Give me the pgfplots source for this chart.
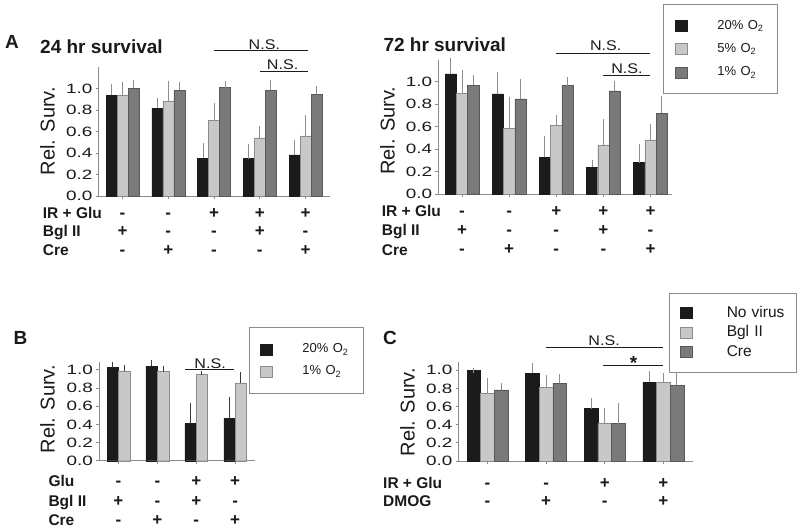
\documentclass[border=0pt]{standalone}
\usepackage{fontspec}
\setmainfont{Liberation Sans}
\newfontfamily\tickfamily{Liberation Sans}[FakeStretch=1.4]
\newfontfamily\nsfamily{Liberation Sans}[FakeStretch=1.15]
\usepackage{pgfplots}
\usepackage{pgfplotstable}
\pgfplotsset{compat=1.18}

\definecolor{blk}{HTML}{1C1A1B}
\definecolor{lgt}{HTML}{C8C8C8}
\definecolor{dgr}{HTML}{7A7A7A}
\definecolor{axgray}{HTML}{8C8C8C}
\definecolor{ebg}{HTML}{8E8E8E}
\definecolor{ebd}{HTML}{3A3A3A}
\definecolor{txt}{HTML}{1A1A1A}

\newcommand\tickfont{\tickfamily\fontsize{13.5}{16}\selectfont}
\newcommand\titlefont{\bfseries\fontsize{19}{22}\selectfont}
\newcommand\ylabfont{\fontsize{20}{24}\selectfont}
\newcommand\rowfont{\bfseries\fontsize{15.5}{18}\selectfont}
\newcommand\signfont{\bfseries\fontsize{17}{20}\selectfont}
\newcommand\nsfont{\nsfamily\fontsize{14}{16}\selectfont}
\newcommand\legfont{\fontsize{13}{15}\selectfont}
\newcommand\legCfont{\fontsize{15.5}{18}\selectfont}

% x = group, k/l/d = black/light/dark bar, e = upper error
\pgfplotstableread{
x k ke l le d de
0 0.938 0.087 0.940 0.100 1.000 0.060
1 0.817 0.073 0.885 0.165 0.984 0.056
2 0.351 0.124 0.705 0.140 1.009 0.044
3 0.348 0.115 0.540 0.087 0.984 0.078
4 0.382 0.115 0.559 0.171 0.947 0.053
}\tabA
\pgfplotstableread{
x k ke l le d de
0 1.068 0.124 0.896 0.187 0.970 0.066
1 0.891 0.177 0.586 0.260 0.846 0.160
2 0.331 0.166 0.609 0.071 0.964 0.060
3 0.240 0.044 0.438 0.207 0.917 0.068
4 0.281 0.148 0.482 0.118 0.719 0.133
}\tabAb
\pgfplotstableread{
x k ke l le
0 1.026 0.037 0.989 0.041
1 1.040 0.041 0.982 0.036
2 0.408 0.199 0.956 0.007
3 0.463 0.213 0.857 0.095
}\tabB
\pgfplotstableread{
x k ke l le d de
0 1.000 0.000 0.746 0.147 0.783 0.055
1 0.967 0.092 0.812 0.110 0.857 0.080
2 0.577 0.088 0.415 0.140 0.412 0.202
3 0.871 0.096 0.871 0.078 0.835 0.114
}\tabC

\pgfplotsset{
  panel/.style={
    scale only axis, anchor=south west,
    axis x line*=bottom, axis y line*=left,
    ymin=0, ybar=0pt, clip=false,
    ytick={0,0.2,0.4,0.6,0.8,1.0},
    yticklabels={0.0,0.2,0.4,0.6,0.8,1.0},
    xticklabels={},
    tick align=outside, major tick length=3pt,
    tick style={axgray, line width=0.8pt},
    axis line style={axgray, line width=0.8pt},
    yticklabel style={font=\tickfont, text=txt, inner sep=0pt, xshift=-3pt},
  },
  errplus/.style={
    error bars/y dir=plus, error bars/y explicit,
    error bars/error bar style={line width=1pt, #1},
    error bars/error mark options={line width=1pt, mark size=2.2pt, #1},
  },
  kbar/.style={fill=blk, draw=blk, line width=0.4pt},
  lbar/.style={fill=lgt, draw=black!45, line width=0.4pt},
  dbar/.style={fill=dgr, draw=black!65, line width=0.4pt},
}
\tikzset{
  sgn/.style={anchor=base, inner sep=0pt, font=\signfont, text=txt},
  nsn/.style={anchor=base, inner sep=0pt, font=\nsfont, text=txt},
  sig/.style={draw=txt, line width=1pt},
  lab/.style={anchor=base west, inner sep=0pt, text=txt},
}
\newcommand\sg[3]{\node[sgn, yshift=#2pt] at (axis cs:#1,0) {#3};}

\begin{document}
\begin{tikzpicture}
\path[use as bounding box] (0,0) rectangle (800pt,531pt);

% A, 24 hr
\begin{axis}[panel, at={(98.5pt,335pt)}, width=231.5pt, height=129pt,
  xmin=-0.525, xmax=4.535, ymax=1.2, xtick={0,...,4}, bar width=11pt]
\addplot[kbar, errplus=ebg] table[x=x, y=k, y error=ke] {\tabA};
\addplot[lbar, errplus=ebg] table[x=x, y=l, y error=le] {\tabA};
\addplot[dbar, errplus=ebg] table[x=x, y=d, y error=de] {\tabA};
\draw[sig] (axis cs:2,1.352) -- (axis cs:4.05,1.352);
\node[nsn, yshift=1.5pt] at (axis cs:3.1,1.352) {N.S.};
\draw[sig] (axis cs:3,1.156) -- (axis cs:4.05,1.156);
\node[nsn, yshift=2.4pt] at (axis cs:3.5,1.156) {N.S.};
\sg{0}{-22.3}{-}\sg{0}{-40.7}{+}\sg{0}{-59.7}{-}
\sg{1}{-22.3}{-}\sg{1}{-40.7}{-}\sg{1}{-59.7}{+}
\sg{2}{-22.3}{+}\sg{2}{-40.7}{-}\sg{2}{-59.7}{-}
\sg{3}{-22.3}{+}\sg{3}{-40.7}{+}\sg{3}{-59.7}{-}
\sg{4}{-22.3}{+}\sg{4}{-40.7}{-}\sg{4}{-59.7}{+}
\end{axis}

% A, 72 hr
\begin{axis}[panel, at={(438.3pt,336.7pt)}, width=233.4pt, height=134.3pt,
  xmin=-0.503, xmax=4.45, ymax=1.192, xtick={0,...,4}, bar width=11.3pt,
  legend image code/.code={\draw[#1] (0pt,-5.5pt) rectangle (11.7pt,5.5pt);},
  legend style={at={(0.964,1.417)}, anchor=north west, draw=axgray,
    line width=0.7pt, fill=white, inner xsep=11.7pt, inner ysep=14.85pt,
    row sep=10.3pt, column sep=30pt, font=\legfont, text=txt,
    nodes={inner sep=0pt, text height=10pt, text depth=3pt,
      text width=48.3pt, align=left},
    cells={anchor=west}}]
\addplot[kbar, errplus=ebg] table[x=x, y=k, y error=ke] {\tabAb};
\addplot[lbar, errplus=ebg] table[x=x, y=l, y error=le] {\tabAb};
\addplot[dbar, errplus=ebg] table[x=x, y=d, y error=de] {\tabAb};
\legend{20\% O\textsubscript{2}, 5\% O\textsubscript{2}, 1\% O\textsubscript{2}}
\draw[sig] (axis cs:2,1.251) -- (axis cs:4,1.251);
\node[nsn, yshift=3.3pt] at (axis cs:3.05,1.251) {N.S.};
\draw[sig] (axis cs:3,1.05) -- (axis cs:4,1.05);
\node[nsn, yshift=2pt] at (axis cs:3.5,1.05) {N.S.};
\sg{0}{-22.4}{-}\sg{0}{-40.7}{+}\sg{0}{-60.3}{-}
\sg{1}{-22.4}{-}\sg{1}{-40.7}{-}\sg{1}{-60.3}{+}
\sg{2}{-22.4}{+}\sg{2}{-40.7}{-}\sg{2}{-60.3}{-}
\sg{3}{-22.4}{+}\sg{3}{-40.7}{+}\sg{3}{-60.3}{-}
\sg{4}{-22.4}{+}\sg{4}{-40.7}{-}\sg{4}{-60.3}{+}
\end{axis}

% B
\begin{axis}[panel, at={(99pt,70.3pt)}, width=156pt, height=99pt,
  xmin=-0.5, xmax=3.51, ymax=1.09, xtick={0,...,3}, bar width=11.4pt,
  legend image code/.code={\draw[#1] (0pt,-5.5pt) rectangle (11.7pt,5.5pt);},
  legend style={at={(0.9635,1.3535)}, anchor=north west, draw=axgray,
    line width=0.7pt, fill=white, inner xsep=10.7pt, inner ysep=15.8pt,
    row sep=9pt, column sep=30pt, font=\legfont, text=txt,
    nodes={inner sep=0pt, text height=10pt, text depth=3pt,
      text width=50.3pt, align=left},
    cells={anchor=west}}]
\addplot[kbar, errplus=ebd] table[x=x, y=k, y error=ke] {\tabB};
\addplot[lbar, errplus=ebd] table[x=x, y=l, y error=le] {\tabB};
\legend{20\% O\textsubscript{2}, 1\% O\textsubscript{2}}
\draw[sig] (axis cs:1.715,1.0) -- (axis cs:2.97,1.0);
\node[nsn, yshift=1.7pt] at (axis cs:2.357,1.0) {N.S.};
\sg{0}{-26}{-}\sg{0}{-46}{+}\sg{0}{-64.7}{-}
\sg{1}{-26}{-}\sg{1}{-46}{-}\sg{1}{-64.7}{+}
\sg{2}{-26}{+}\sg{2}{-46}{+}\sg{2}{-64.7}{-}
\sg{3}{-26}{+}\sg{3}{-46}{-}\sg{3}{-64.7}{+}
\end{axis}

% C
\begin{axis}[panel, at={(458.7pt,70pt)}, width=234pt, height=99.3pt,
  xmin=-0.49, xmax=3.5, ymax=1.095, xtick={0,...,3}, bar width=13.6pt,
  legend image code/.code={\draw[#1] (0pt,-5.5pt) rectangle (12.4pt,5.5pt);},
  legend style={at={(0.9,1.695)}, anchor=north west, draw=axgray,
    line width=0.7pt, fill=white, inner xsep=10pt, inner ysep=13pt,
    row sep=5.5pt, column sep=34.3pt, font=\legCfont, text=txt,
    nodes={inner sep=0pt, text height=11pt, text depth=3pt,
      text width=60pt, align=left},
    cells={anchor=west}}]
\addplot[kbar, errplus=ebg] table[x=x, y=k, y error=ke] {\tabC};
\addplot[lbar, errplus=ebg] table[x=x, y=l, y error=le] {\tabC};
\addplot[dbar, errplus=ebg] table[x=x, y=d, y error=de] {\tabC};
\legend{No virus, Bgl II, Cre}
\draw[sig] (axis cs:1,1.249) -- (axis cs:3,1.249);
\node[nsn, yshift=2.7pt] at (axis cs:1.99,1.249) {N.S.};
\draw[sig] (axis cs:1.97,1.058) -- (axis cs:3,1.058);
\node[anchor=base, inner sep=0pt, font=\bfseries\fontsize{19}{22}\selectfont,
  text=txt, yshift=-4.5pt] at (axis cs:2.49,1.058) {*};
\sg{0}{-27.3}{-}\sg{0}{-45.7}{-}
\sg{1}{-27.3}{-}\sg{1}{-45.7}{+}
\sg{2}{-27.3}{+}\sg{2}{-45.7}{-}
\sg{3}{-27.3}{+}\sg{3}{-45.7}{+}
\end{axis}

% panel letters and titles
\node[lab, font=\titlefont] at (5pt,482.7pt) {A};
\node[lab, font=\titlefont] at (40pt,477.7pt) {24 hr survival};
\node[lab, font=\titlefont] at (383.3pt,479pt) {72 hr survival};
\node[lab, font=\titlefont] at (13.3pt,187pt) {B};
\node[lab, font=\titlefont] at (383pt,187pt) {C};

% y labels
\node[rotate=90, inner sep=0pt, font=\ylabfont, text=txt] at (47.5pt,400pt) {Rel. Surv.};
\node[rotate=90, inner sep=0pt, font=\ylabfont, text=txt] at (387.5pt,400.3pt) {Rel. Surv.};
\node[rotate=90, inner sep=0pt, font=\ylabfont, text=txt] at (47.5pt,122pt) {Rel. Surv.};
\node[rotate=90, inner sep=0pt, font=\ylabfont, text=txt] at (407.5pt,119pt) {Rel. Surv.};

% row labels
\node[lab, font=\rowfont] at (42.7pt,312.7pt) {IR + Glu};
\node[lab, font=\rowfont] at (42.7pt,294.3pt) {Bgl II};
\node[lab, font=\rowfont] at (42.7pt,275.3pt) {Cre};
\node[lab, font=\rowfont] at (381.7pt,314.3pt) {IR + Glu};
\node[lab, font=\rowfont] at (381.7pt,296pt) {Bgl II};
\node[lab, font=\rowfont] at (381.7pt,276pt) {Cre};
\node[lab, font=\rowfont] at (48.3pt,44.3pt) {Glu};
\node[lab, font=\rowfont] at (48.3pt,24.3pt) {Bgl II};
\node[lab, font=\rowfont] at (48.3pt,6pt) {Cre};
\node[lab, font=\rowfont] at (383pt,42.7pt) {IR + Glu};
\node[lab, font=\rowfont] at (383pt,24.3pt) {DMOG};
\end{tikzpicture}
\end{document}
